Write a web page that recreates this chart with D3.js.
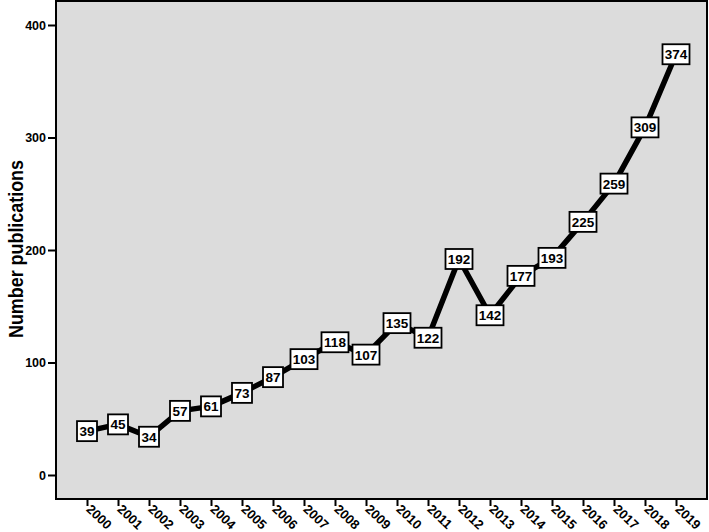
<!DOCTYPE html>
<html>
<head>
<meta charset="utf-8">
<script src="https://cdn.jsdelivr.net/npm/d3@7"></script>
<style>
  body { margin: 0; background: #fff; }
  text { font-family: "Liberation Sans", Arial, sans-serif; font-weight: bold; }
</style>
</head>
<body>
<div id="chart"></div>
<script>
var years = ["2000","2001","2002","2003","2004","2005","2006","2007","2008","2009",
             "2010","2011","2012","2013","2014","2015","2016","2017","2018","2019"];
var publications = [39, 45, 34, 57, 61, 73, 87, 103, 118, 107,
                    135, 122, 192, 142, 177, 193, 225, 259, 309, 374];
var yTicks = [0, 100, 200, 300, 400];

var width = 709, height = 532;
var plot = { left: 56, right: 707, top: 1, bottom: 499 };

var svg = d3.select("#chart").append("svg")
    .attr("width", width)
    .attr("height", height);

var x = d3.scalePoint()
    .domain(years)
    .range([plot.left, plot.right])
    .padding(1);

var y = d3.scaleLinear()
    .domain([0, 400])
    .range([475, 25]);

// plot background
svg.append("rect")
    .attr("x", plot.left)
    .attr("y", plot.top)
    .attr("width", plot.right - plot.left)
    .attr("height", plot.bottom - plot.top)
    .attr("fill", "#dcdcdc")
    .attr("stroke", "#000")
    .attr("stroke-width", 2);

// y axis
var yAxis = svg.append("g")
    .attr("transform", "translate(" + plot.left + ",0)")
    .call(d3.axisLeft(y).tickValues(yTicks).tickSize(8).tickPadding(2));
yAxis.select(".domain").remove();
yAxis.selectAll(".tick line").attr("stroke", "#000").attr("stroke-width", 2);
yAxis.selectAll(".tick text")
    .attr("font-size", 12.5)
    .attr("font-family", "Liberation Sans, Arial, sans-serif")
    .attr("font-weight", "bold")
    .attr("fill", "#000");

// x axis
var xAxis = svg.append("g")
    .attr("transform", "translate(0," + plot.bottom + ")")
    .call(d3.axisBottom(x).tickSize(7).tickPadding(2));
xAxis.select(".domain").remove();
xAxis.selectAll(".tick line").attr("stroke", "#000").attr("stroke-width", 2);
xAxis.selectAll(".tick text")
    .attr("font-size", 13)
    .attr("font-family", "Liberation Sans, Arial, sans-serif")
    .attr("font-weight", "bold")
    .attr("fill", "#000")
    .attr("text-anchor", "start")
    .attr("y", 0)
    .attr("dy", "0.35em")
    .attr("transform", "translate(1,8) rotate(43)");

// y axis title
svg.append("text")
    .attr("transform", "translate(23,249) rotate(-90)")
    .attr("text-anchor", "middle")
    .attr("font-size", 21)
    .attr("textLength", 178)
    .attr("lengthAdjust", "spacingAndGlyphs")
    .attr("fill", "#000")
    .text("Number publications");

// line
var line = d3.line()
    .x(function(d, i) { return x(years[i]); })
    .y(function(d) { return y(d); });

svg.append("path")
    .datum(publications)
    .attr("d", line)
    .attr("fill", "none")
    .attr("stroke", "#000")
    .attr("stroke-width", 5.5)
    .attr("stroke-linejoin", "round");

// value labels
var labels = svg.append("g").selectAll("g")
    .data(publications)
    .enter().append("g")
    .attr("transform", function(d, i) { return "translate(" + x(years[i]) + "," + y(d) + ")"; });

labels.append("rect")
    .attr("x", function(d) { return d >= 100 ? -13.5 : -10; })
    .attr("y", -10)
    .attr("width", function(d) { return d >= 100 ? 27 : 20; })
    .attr("height", 20)
    .attr("fill", "#fff")
    .attr("stroke", "#000")
    .attr("stroke-width", 1.8);

labels.append("text")
    .attr("text-anchor", "middle")
    .attr("dy", "0.37em")
    .attr("font-size", 13.5)
    .attr("fill", "#000")
    .text(function(d) { return d; });
</script>
</body>
</html>
